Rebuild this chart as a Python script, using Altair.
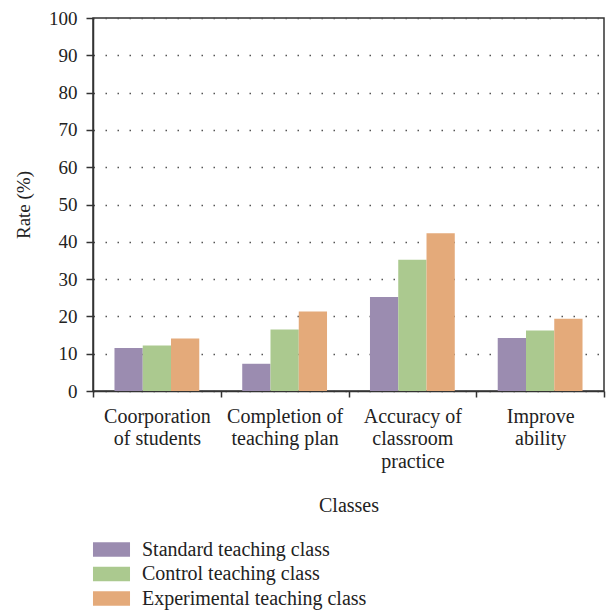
import altair as alt
import pandas as pd

categories = ["Coorporation|of students", "Completion of|teaching plan",
              "Accuracy of|classroom|practice", "Improve|ability"]
series = ["Standard teaching class", "Control teaching class", "Experimental teaching class"]
standard = [11.5, 7.3, 25.2, 14.2]
control = [12.2, 16.5, 35.2, 16.2]
experimental = [14.1, 21.3, 42.3, 19.4]
colors = ["#9B8CB0", "#ABC98F", "#E4AA7A"]
y_ticks = list(range(0, 101, 10))

rows = []
for name, vals in zip(series, [standard, control, experimental]):
    for c, v in zip(categories, vals):
        rows.append({"Category": c, "Series": name, "Rate": v})
df = pd.DataFrame(rows)

font = "Liberation Serif"
dark = "#333333"

chart = alt.Chart(df).mark_bar().encode(
    x=alt.X("Category:N", sort=categories,
            scale=alt.Scale(paddingInner=0, paddingOuter=0),
            axis=alt.Axis(title="Classes", labelExpr="split(datum.label, '|')",
                          labelAngle=0, tickBand="extent", grid=False,
                          labelLineHeight=22.5, labelPadding=9, titlePadding=24,
                          tickSize=6, labelBaseline="top", labelFontSize=20,
                          titleFontSize=20)),
    xOffset=alt.XOffset("Series:N", sort=series,
                        scale=alt.Scale(paddingInner=0, paddingOuter=0.76)),
    y=alt.Y("Rate:Q", scale=alt.Scale(domain=[0, 100]),
            axis=alt.Axis(values=y_ticks, title="Rate (%)", grid=True,
                          tickSize=7, labelPadding=9, titlePadding=15)),
    color=alt.Color("Series:N", sort=series,
                    scale=alt.Scale(domain=series, range=colors),
                    legend=alt.Legend(orient="none", legendX=7, legendY=520, title=None,
                                      direction="vertical",
                                      symbolType="M-1.61,-0.63H1.61V0.63H-1.61Z",
                                      symbolSize=529, symbolStrokeWidth=0,
                                      labelFont=font, labelFontSize=20,
                                      labelColor="#222222", labelOffset=19,
                                      labelLimit=400, rowPadding=2.5)),
).properties(
    width=511, height=373,
    autosize=alt.AutoSizeParams(type="none"),
    padding={"left": 93, "top": 18, "right": 2, "bottom": 224},
).configure_view(
    stroke=dark, strokeWidth=1.5
).configure_axis(
    labelFont=font, titleFont=font, labelFontSize=19, titleFontSize=19,
    titleFontWeight="normal", labelColor="#222222", titleColor="#222222",
    domainColor=dark, domainWidth=1.5, tickColor=dark, tickWidth=1.5,
    gridColor="#555555", gridDash=[1.5, 10.5], gridWidth=1.5
)

chart.save("out.html", embed_options={"renderer": "svg", "actions": False})
